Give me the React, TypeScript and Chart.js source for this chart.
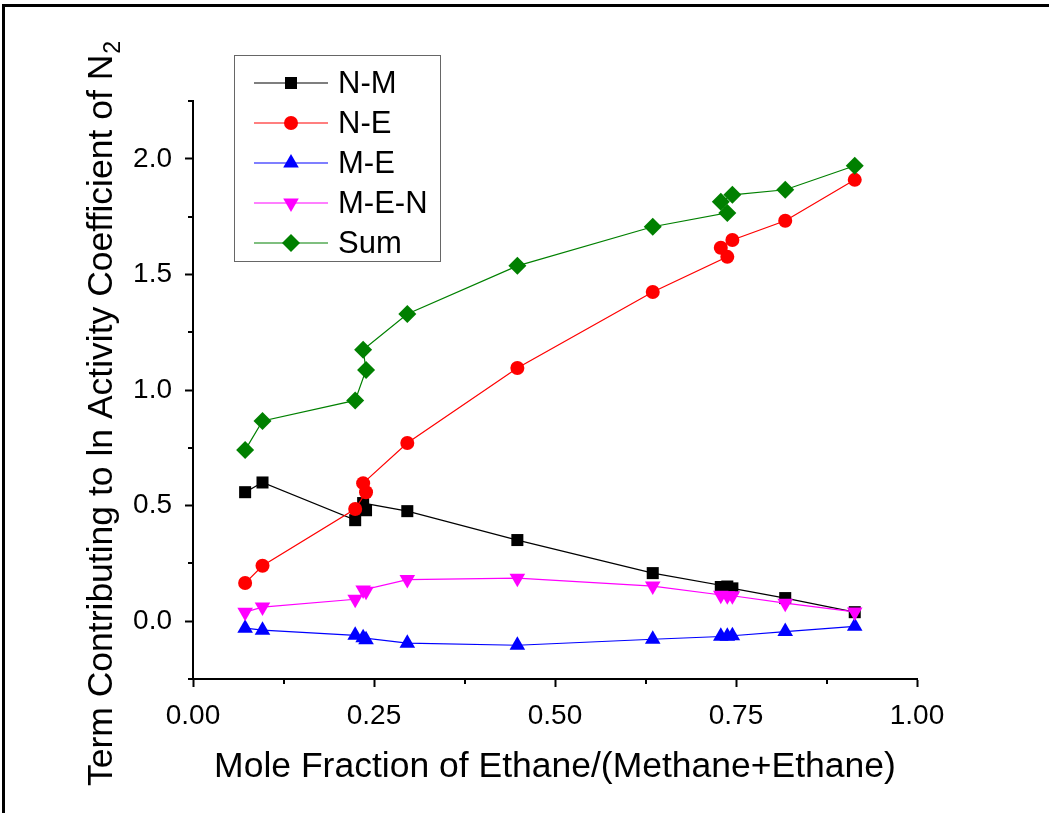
import React, { useEffect, useRef } from 'react';
import { Chart, registerables } from 'chart.js';
import { drawPoint } from 'chart.js/helpers';

Chart.register(...registerables);

// Mole fraction of ethane in the methane+ethane mixture (same for every series)
const moleFraction = [0.072, 0.096, 0.224, 0.239, 0.235, 0.296, 0.448, 0.635, 0.738, 0.729, 0.745, 0.818, 0.914];

// Terms contributing to ln(activity coefficient) of N2
const termNM = [0.558, 0.600, 0.437, 0.480, 0.511, 0.476, 0.351, 0.208, 0.150, 0.148, 0.142, 0.100, 0.039];
const termNE = [0.165, 0.240, 0.485, 0.558, 0.597, 0.771, 1.095, 1.424, 1.576, 1.615, 1.649, 1.732, 1.909];
const termME = [-0.030, -0.039, -0.061, -0.080, -0.072, -0.095, -0.104, -0.078, -0.065, -0.065, -0.063, -0.045, -0.022];
const termMEN = [0.039, 0.061, 0.095, 0.130, 0.135, 0.180, 0.186, 0.152, 0.110, 0.112, 0.110, 0.078, 0.040];
const termSum = [0.740, 0.866, 0.955, 1.087, 1.174, 1.329, 1.537, 1.706, 1.766, 1.814, 1.844, 1.866, 1.970];

const seriesNames = ['N-M', 'N-E', 'M-E', 'M-E-N', 'Sum'];
const seriesColors = ['#000000', '#ff0000', '#0000ff', '#ff00ff', '#008000'];
const seriesValues = [termNM, termNE, termME, termMEN, termSum];
const seriesMarkers = ['rect', 'circle', 'triangle', 'triangle', 'rectRot'];
const markerRotation = [0, 0, 0, 180, 0];
const markerRadius = [8.5, 7, 9, 9, 9];

const xMajorTicks = [0, 0.25, 0.5, 0.75, 1];
const xMinorTicks = [0.125, 0.375, 0.625, 0.875];
const yMajorTicks = [0, 0.5, 1, 1.5, 2];
const yMinorTicks = [-0.25, 0.25, 0.75, 1.25, 1.75, 2.25];

const xTitle = 'Mole Fraction of Ethane/(Methane+Ethane)';
const yTitleMain = 'Term Contributing to ln Activity Coefficient of N';
const yTitleSub = '2';

const FONT = '"Liberation Sans", Arial, Helvetica, sans-serif';
const TITLE_SIZE = 35.5;

// Short minor ticks between the labelled ones, placed through the chart scales
const minorTickPlugin = {
  id: 'minorTicks',
  afterDraw(chart: any) {
    const { ctx, chartArea, scales } = chart;
    ctx.save();
    ctx.strokeStyle = '#000';
    ctx.lineWidth = 2;
    ctx.beginPath();
    for (const v of xMinorTicks) {
      const px = Math.round(scales.x.getPixelForValue(v));
      ctx.moveTo(px, chartArea.bottom);
      ctx.lineTo(px, chartArea.bottom + 5);
    }
    for (const v of yMinorTicks) {
      const py = Math.round(scales.y.getPixelForValue(v));
      ctx.moveTo(chartArea.left - 5, py);
      ctx.lineTo(chartArea.left, py);
    }
    ctx.stroke();
    ctx.restore();
  },
};

// Rotated y-axis title with the subscript on N2
const yTitlePlugin = {
  id: 'yTitle',
  afterDraw(chart: any) {
    const { ctx } = chart;
    ctx.save();
    ctx.translate(99, 414);
    ctx.rotate(-Math.PI / 2);
    ctx.fillStyle = '#000';
    ctx.textAlign = 'left';
    ctx.textBaseline = 'alphabetic';
    ctx.font = `${TITLE_SIZE}px ${FONT}`;
    const mw = ctx.measureText(yTitleMain).width;
    ctx.font = `23px ${FONT}`;
    const sw = ctx.measureText(yTitleSub).width;
    const start = -(mw + sw) / 2;
    ctx.font = `${TITLE_SIZE}px ${FONT}`;
    ctx.fillText(yTitleMain, start, 13);
    ctx.font = `23px ${FONT}`;
    ctx.fillText(yTitleSub, start + mw + 1, 21);
    ctx.restore();
  },
};

// Boxed legend with a line sample and marker for each series
const legendPlugin = {
  id: 'boxLegend',
  afterDraw(chart: any) {
    const { ctx } = chart;
    const box = { x: 234.5, y: 55.5, w: 206, h: 206 };
    ctx.save();
    ctx.fillStyle = '#fff';
    ctx.fillRect(box.x, box.y, box.w, box.h);
    ctx.strokeStyle = '#666';
    ctx.lineWidth = 1;
    ctx.strokeRect(box.x, box.y, box.w, box.h);
    seriesNames.forEach((name, i) => {
      const y = 83 + i * 40;
      ctx.strokeStyle = seriesColors[i];
      ctx.lineWidth = 1.2;
      ctx.beginPath();
      ctx.moveTo(254, y);
      ctx.lineTo(328, y);
      ctx.stroke();
      ctx.fillStyle = seriesColors[i];
      drawPoint(
        ctx,
        { pointStyle: seriesMarkers[i] as any, rotation: markerRotation[i], radius: markerRadius[i], borderWidth: 0 },
        291,
        y
      );
      ctx.fillStyle = '#000';
      ctx.font = `31px ${FONT}`;
      ctx.textAlign = 'left';
      ctx.textBaseline = 'middle';
      ctx.fillText(name, 338, y + 1);
    });
    ctx.restore();
  },
};

export default function App() {
  const canvasRef = useRef<HTMLCanvasElement | null>(null);

  useEffect(() => {
    if (!canvasRef.current) return;
    Chart.defaults.font.family = FONT;
    Chart.defaults.color = '#000';

    const datasets = seriesNames.map((name, i) => ({
      label: name,
      data: moleFraction.map((x, j) => ({ x, y: seriesValues[i][j] })),
      borderColor: seriesColors[i],
      backgroundColor: seriesColors[i],
      pointBackgroundColor: seriesColors[i],
      pointBorderColor: seriesColors[i],
      pointBorderWidth: 0,
      borderWidth: 1.2,
      pointStyle: seriesMarkers[i],
      pointRotation: markerRotation[i],
      pointRadius: markerRadius[i],
      pointHoverRadius: markerRadius[i],
      tension: 0,
      fill: false,
      // later series drawn on top
      order: seriesNames.length - i,
    }));

    const chart = new Chart(canvasRef.current, {
      type: 'line',
      data: { datasets },
      options: {
        responsive: false,
        animation: false,
        devicePixelRatio: 1,
        layout: { padding: { left: 0, top: 101, right: 132, bottom: 0 } },
        plugins: {
          legend: { display: false },
          tooltip: { enabled: false },
        },
        scales: {
          x: {
            type: 'linear',
            min: 0,
            max: 1,
            afterFit: (scale: any) => {
              scale.height = 134;
            },
            afterBuildTicks: (scale: any) => {
              scale.ticks = xMajorTicks.map((v) => ({ value: v }));
            },
            border: { display: true, color: '#000', width: 2 },
            grid: {
              display: true,
              drawOnChartArea: false,
              drawTicks: true,
              tickLength: 8,
              tickWidth: 2,
              tickColor: '#000',
            },
            ticks: {
              color: '#000',
              font: { size: 28 },
              padding: 12,
              maxRotation: 0,
              callback: (v: any) => Number(v).toFixed(2),
            },
            title: {
              display: true,
              text: xTitle,
              color: '#000',
              font: { size: TITLE_SIZE },
              padding: { top: 0, bottom: 24 },
            },
          },
          y: {
            type: 'linear',
            min: -0.25,
            max: 2.25,
            afterFit: (scale: any) => {
              scale.width = 193;
            },
            afterBuildTicks: (scale: any) => {
              scale.ticks = yMajorTicks.map((v) => ({ value: v }));
            },
            border: { display: true, color: '#000', width: 2 },
            grid: {
              display: true,
              drawOnChartArea: false,
              drawTicks: true,
              tickLength: 8,
              tickWidth: 2,
              tickColor: '#000',
            },
            ticks: {
              color: '#000',
              font: { size: 28 },
              padding: 13,
              callback: (v: any) => Number(v).toFixed(1),
            },
          },
        },
      },
      plugins: [minorTickPlugin, yTitlePlugin, legendPlugin],
    });

    return () => chart.destroy();
  }, []);

  return (
    <div style={{ position: 'fixed', left: 0, top: 0, width: 1049, height: 813, background: '#fff', overflow: 'hidden' }}>
      <canvas ref={canvasRef} width={1049} height={813} style={{ position: 'absolute', left: 0, top: 0 }} />
      <div
        style={{
          position: 'absolute',
          left: 2,
          top: 4,
          width: 1200,
          height: 1000,
          borderTop: '3px solid #000',
          borderLeft: '3px solid #000',
          pointerEvents: 'none',
        }}
      />
    </div>
  );
}
